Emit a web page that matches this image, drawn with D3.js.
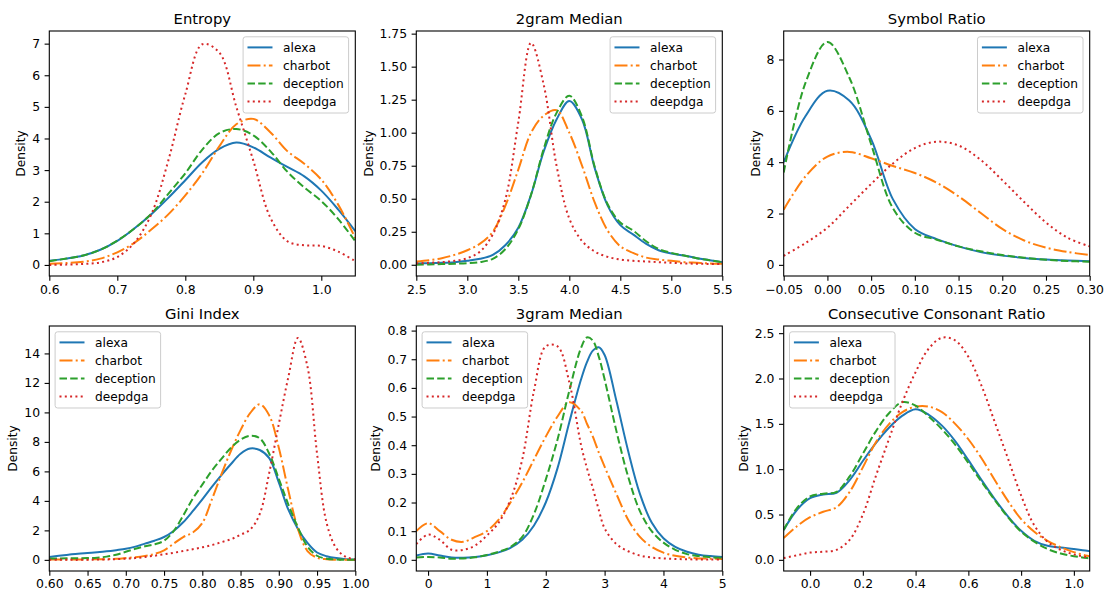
<!DOCTYPE html>
<html>
<head>
<meta charset="utf-8">
<script src="https://cdn.jsdelivr.net/npm/d3@7"></script>
<style>
  body { margin: 0; background: #fff; }
  text { font-family: "DejaVu Sans", sans-serif; fill: #000; }
</style>
</head>
<body>
<div id="output"></div>
<script>
    var width = 1104;
    var height = 590;

    var series = ['alexa', 'charbot', 'deception', 'deepdga'];
    var colors = ['#1f77b4', '#ff7f0e', '#2ca02c', '#d62728'];
    var dashes = [null, '13,3.2,2,3.2', '7.5,3.2', '2,3.3'];

    var titles = ['Entropy', '2gram Median', 'Symbol Ratio', 'Gini Index', '3gram Median', 'Consecutive Consonant Ratio'];

    // Entropy
    var entropyX = [0.6,0.625,0.65,0.675,0.7,0.725,0.75,0.775,0.8,0.825,0.85,0.875,0.9,0.925,0.95,0.975,1.0,1.025,1.05];
    var entropyAlexa = [0.13,0.2,0.3,0.48,0.76,1.15,1.6,2.12,2.68,3.25,3.67,3.87,3.72,3.4,3.1,2.8,2.35,1.75,1.07];
    var entropyCharbot = [0.04,0.06,0.1,0.2,0.4,0.7,1.12,1.6,2.2,2.9,3.75,4.45,4.62,4.2,3.6,3.2,2.7,1.9,0.85];
    var entropyDeception = [0.12,0.2,0.3,0.48,0.77,1.15,1.62,2.25,2.9,3.65,4.17,4.3,4.1,3.6,2.95,2.45,2.02,1.45,0.75];
    var entropyDeepdga = [0.0,0.01,0.03,0.08,0.25,0.7,1.6,3.3,5.4,6.98,6.72,5.0,3.3,1.5,0.75,0.62,0.6,0.42,0.12];

    // 2gram Median
    var gram2X = [2.5,2.625,2.75,2.875,3.0,3.125,3.25,3.375,3.5,3.625,3.75,3.875,4.0,4.125,4.25,4.375,4.5,4.625,4.75,4.875,5.0,5.125,5.25,5.375,5.5];
    var gram2Alexa = [0.01,0.012,0.015,0.02,0.03,0.045,0.075,0.15,0.28,0.53,0.86,1.1,1.24,1.1,0.73,0.45,0.3,0.23,0.16,0.11,0.085,0.07,0.05,0.035,0.02];
    var gram2Charbot = [0.025,0.035,0.05,0.075,0.11,0.16,0.25,0.45,0.72,1.0,1.13,1.17,1.0,0.75,0.47,0.26,0.14,0.09,0.055,0.04,0.03,0.02,0.015,0.01,0.008];
    var gram2Deception = [0.0,0.003,0.005,0.008,0.012,0.02,0.045,0.12,0.27,0.53,0.88,1.15,1.28,1.12,0.74,0.46,0.32,0.26,0.18,0.12,0.09,0.07,0.05,0.035,0.02];
    var gram2Deepdga = [0.01,0.015,0.02,0.03,0.05,0.1,0.23,0.5,1.08,1.68,1.36,0.75,0.35,0.18,0.1,0.06,0.04,0.03,0.025,0.02,0.015,0.01,0.008,0.006,0.005];

    // Symbol Ratio
    var symbolX = [-0.05,-0.025,0,0.025,0.05,0.075,0.1,0.125,0.15,0.175,0.2,0.225,0.25,0.275,0.3];
    var symbolAlexa = [4.0,5.8,6.78,6.4,4.9,2.55,1.4,1.0,0.72,0.5,0.36,0.27,0.21,0.17,0.14];
    var symbolCharbot = [2.15,3.45,4.22,4.4,4.15,3.85,3.58,3.2,2.67,2.03,1.4,0.95,0.67,0.5,0.38];
    var symbolDeception = [3.6,7.1,8.68,7.3,4.7,2.2,1.25,0.98,0.72,0.53,0.38,0.28,0.2,0.15,0.12];
    var symbolDeepdga = [0.35,0.85,1.45,2.3,3.15,3.95,4.55,4.8,4.65,4.1,3.3,2.45,1.65,1.05,0.72];

    // Gini Index
    var giniX = [0.6,0.6125,0.625,0.6375,0.65,0.6625,0.675,0.6875,0.7,0.7125,0.725,0.7375,0.75,0.7625,0.775,0.7875,0.8,
                 0.8125,0.825,0.8375,0.85,0.8625,0.875,0.8875,0.9,0.9125,0.925,0.9375,0.95,0.9625,0.975,0.9875,1.0];
    var giniAlexa = [0.2,0.28,0.35,0.42,0.47,0.52,0.58,0.66,0.75,0.9,1.1,1.3,1.55,1.96,2.55,3.3,4.1,4.95,5.75,6.5,7.2,7.55,7.45,6.9,5.25,3.4,2.1,1.15,0.5,0.25,0.12,0.05,0.02];
    var giniCharbot = [0.02,0.02,0.02,0.03,0.03,0.04,0.05,0.07,0.12,0.18,0.27,0.4,0.65,1.1,1.55,1.85,2.5,4.1,5.8,7.4,8.8,9.95,10.55,9.8,7.6,4.7,2.1,0.6,0.15,0.04,0.01,0.0,0.0];
    var giniDeception = [0.1,0.1,0.11,0.11,0.12,0.15,0.22,0.35,0.55,0.75,0.92,1.05,1.3,1.95,3.0,4.15,5.1,6.05,6.85,7.6,8.15,8.42,8.25,7.2,5.5,3.75,2.2,0.9,0.28,0.08,0.03,0.01,0.0];
    var giniDeepdga = [0.0,0.0,0.0,0.0,0.01,0.02,0.03,0.05,0.08,0.12,0.2,0.28,0.38,0.48,0.6,0.72,0.85,1.0,1.2,1.4,1.7,2.05,3.1,5.9,9.2,12.4,15.05,13.1,7.2,2.5,0.8,0.2,0.03];

    // 3gram Median
    var gram3X = [-0.2,0,0.2,0.4,0.6,0.8,1.0,1.2,1.4,1.6,1.8,2.0,2.2,2.4,2.6,2.7,2.8,2.9,3.0,3.2,3.4,3.6,3.8,4.0,4.2,4.4,4.6,4.8,5.0];
    var gram3Alexa = [0.015,0.022,0.015,0.008,0.007,0.01,0.016,0.026,0.042,0.07,0.12,0.2,0.32,0.48,0.63,0.69,0.73,0.742,0.715,0.555,0.38,0.23,0.13,0.075,0.045,0.028,0.018,0.013,0.01];
    var gram3Charbot = [0.1,0.128,0.1,0.07,0.063,0.08,0.1,0.14,0.2,0.27,0.35,0.43,0.5,0.55,0.52,0.475,0.43,0.375,0.325,0.23,0.14,0.08,0.045,0.025,0.014,0.008,0.005,0.004,0.003];
    var gram3Deception = [0.008,0.01,0.008,0.004,0.005,0.009,0.017,0.028,0.045,0.08,0.16,0.28,0.42,0.59,0.74,0.776,0.765,0.71,0.63,0.45,0.29,0.17,0.1,0.06,0.035,0.02,0.013,0.009,0.007];
    var gram3Deepdga = [0.055,0.088,0.07,0.035,0.035,0.05,0.085,0.13,0.21,0.35,0.59,0.745,0.745,0.62,0.4,0.32,0.25,0.175,0.11,0.055,0.03,0.015,0.008,0.005,0.003,0.002,0.001,0.001,0.001];

    // Consecutive Consonant Ratio
    var ccrX = [-0.1,-0.05,0,0.05,0.1,0.15,0.2,0.25,0.3,0.35,0.4,0.45,0.5,0.55,0.6,0.65,0.7,0.75,0.8,0.85,0.9,0.95,1.0,1.05,1.1];
    var ccrAlexa = [0.33,0.55,0.68,0.72,0.74,0.88,1.09,1.29,1.46,1.59,1.66,1.6,1.48,1.31,1.1,0.88,0.67,0.48,0.32,0.21,0.155,0.135,0.12,0.1,0.08];
    var ccrCharbot = [0.24,0.37,0.47,0.53,0.58,0.75,1.02,1.3,1.5,1.63,1.69,1.69,1.63,1.5,1.33,1.12,0.88,0.65,0.45,0.31,0.21,0.14,0.085,0.045,0.02];
    var ccrDeception = [0.33,0.57,0.7,0.73,0.75,0.92,1.17,1.42,1.62,1.74,1.7,1.58,1.44,1.27,1.07,0.86,0.66,0.47,0.31,0.2,0.12,0.07,0.04,0.02,0.01];
    var ccrDeepdga = [0.02,0.05,0.08,0.09,0.11,0.22,0.5,0.93,1.34,1.74,2.07,2.33,2.45,2.42,2.24,1.92,1.52,1.12,0.71,0.38,0.2,0.11,0.06,0.03,0.015];

    // tick values
    var entropyTicksX = [0.6,0.7,0.8,0.9,1.0], entropyTicksY = [0,1,2,3,4,5,6,7];
    var gram2TicksX = [2.5,3.0,3.5,4.0,4.5,5.0,5.5], gram2TicksY = [0,0.25,0.5,0.75,1.0,1.25,1.5,1.75];
    var symbolTicksX = [-0.05,0,0.05,0.1,0.15,0.2,0.25,0.3], symbolTicksY = [0,2,4,6,8];
    var giniTicksX = [0.6,0.65,0.7,0.75,0.8,0.85,0.9,0.95,1.0], giniTicksY = [0,2,4,6,8,10,12,14];
    var gram3TicksX = [0,1,2,3,4,5], gram3TicksY = [0,0.1,0.2,0.3,0.4,0.5,0.6,0.7,0.8];
    var ccrTicksX = [0,0.2,0.4,0.6,0.8,1.0], ccrTicksY = [0,0.5,1.0,1.5,2.0,2.5];

    var panels = [
        { xs: entropyX, ys: [entropyAlexa, entropyCharbot, entropyDeception, entropyDeepdga],
          xDomain: [0.6, 1.05], yDomain: [-0.35, 7.40], xTicks: entropyTicksX, yTicks: entropyTicksY, xFmt: '.1f', yFmt: 'd', legend: 'right' },
        { xs: gram2X, ys: [gram2Alexa, gram2Charbot, gram2Deception, gram2Deepdga],
          xDomain: [2.5, 5.5], yDomain: [-0.085, 1.77], xTicks: gram2TicksX, yTicks: gram2TicksY, xFmt: '.1f', yFmt: '.2f', legend: 'right' },
        { xs: symbolX, ys: [symbolAlexa, symbolCharbot, symbolDeception, symbolDeepdga],
          xDomain: [-0.05, 0.30], yDomain: [-0.434, 9.11], xTicks: symbolTicksX, yTicks: symbolTicksY, xFmt: '.2f', yFmt: 'd', legend: 'right' },
        { xs: giniX, ys: [giniAlexa, giniCharbot, giniDeception, giniDeepdga],
          xDomain: [0.6, 1.0], yDomain: [-0.755, 15.86], xTicks: giniTicksX, yTicks: giniTicksY, xFmt: '.2f', yFmt: 'd', legend: 'left' },
        { xs: gram3X, ys: [gram3Alexa, gram3Charbot, gram3Deception, gram3Deepdga],
          xDomain: [-0.2, 5.0], yDomain: [-0.039, 0.816], xTicks: gram3TicksX, yTicks: gram3TicksY, xFmt: 'd', yFmt: '.1f', legend: 'left' },
        { xs: ccrX, ys: [ccrAlexa, ccrCharbot, ccrDeception, ccrDeepdga],
          xDomain: [-0.1, 1.06], yDomain: [-0.123, 2.579], xTicks: ccrTicksX, yTicks: ccrTicksY, xFmt: '.1f', yFmt: '.1f', legend: 'left' }
    ];

    var colLeft = [49.3, 416.3, 783.7];
    var rowTop = [31, 326];
    var plotW = 306;
    var plotH = 245;

    var svg = d3.select('#output').append('svg')
            .attr('width', width)
            .attr('height', height);

    svg.append('rect').attr('width', width).attr('height', height).attr('fill', '#fff');

    panels.forEach(function(p, i) {
        var row = Math.floor(i / 3);
        var g = svg.append('g')
            .attr('transform', 'translate(' + colLeft[i % 3] + ',' + rowTop[row] + ')');

        var x = d3.scaleLinear().domain(p.xDomain).range([0, plotW]);
        var y = d3.scaleLinear().domain(p.yDomain).range([plotH, 0]);

        g.append('clipPath').attr('id', 'clip' + i)
            .append('rect').attr('width', plotW).attr('height', plotH);

        var line = d3.line()
            .x(function(d) { return x(d[0]); })
            .y(function(d) { return y(d[1]); })
            .curve(d3.curveCatmullRom.alpha(0.5));

        // density curves
        p.ys.forEach(function(vals, k) {
            var pts = p.xs.map(function(xv, j) { return [xv, vals[j]]; });
            g.append('path')
                .datum(pts)
                .attr('d', line)
                .attr('clip-path', 'url(#clip' + i + ')')
                .attr('fill', 'none')
                .attr('stroke', colors[k])
                .attr('stroke-width', 2)
                .attr('stroke-dasharray', dashes[k]);
        });

        // axes
        var xAxis = d3.axisBottom(x).tickValues(p.xTicks).tickFormat(d3.format(p.xFmt))
            .tickSizeInner(4.7).tickSizeOuter(0).tickPadding(row === 0 ? 4.5 : 3.6);
        var yAxis = d3.axisLeft(y).tickValues(p.yTicks).tickFormat(d3.format(p.yFmt))
            .tickSizeInner(4.7).tickSizeOuter(0).tickPadding(4.5);

        var gx = g.append('g').attr('transform', 'translate(0,' + plotH + ')').call(xAxis);
        var gy = g.append('g').call(yAxis);
        [gx, gy].forEach(function(a) {
            a.select('.domain').remove();
            a.selectAll('line').attr('stroke', '#000').attr('stroke-width', 1.1);
            a.selectAll('text').style('font-size', '12.4px').attr('fill', '#000');
        });

        // frame
        g.append('rect')
            .attr('width', plotW).attr('height', plotH)
            .attr('fill', 'none').attr('stroke', '#000').attr('stroke-width', 1.1);

        // title
        g.append('text')
            .attr('x', plotW / 2).attr('y', -7)
            .attr('text-anchor', 'middle')
            .style('font-size', '14.8px')
            .text(titles[i]);

        // y label
        var bb = gy.node().getBBox();
        var lx = bb.x - 7;
        g.append('text')
            .attr('transform', 'translate(' + lx + ',' + (plotH / 2) + ') rotate(-90)')
            .attr('text-anchor', 'middle')
            .style('font-size', '12.2px')
            .text('Density');

        // legend
        var lg = g.append('g');
        var box = lg.append('rect')
            .attr('rx', 2.5).attr('ry', 2.5)
            .attr('fill', '#fff').attr('fill-opacity', 0.8)
            .attr('stroke', '#cccccc').attr('stroke-width', 1);
        var maxW = 0;
        series.forEach(function(s, k) {
            var cy = 10.6 + k * 18;
            lg.append('line')
                .attr('x1', 4.4).attr('x2', 29.4)
                .attr('y1', cy).attr('y2', cy)
                .attr('stroke', colors[k])
                .attr('stroke-width', 2)
                .attr('stroke-dasharray', dashes[k]);
            var t = lg.append('text')
                .attr('x', 40).attr('y', cy).attr('dy', '0.36em')
                .style('font-size', '12.2px')
                .text(s);
            maxW = Math.max(maxW, t.node().getComputedTextLength());
        });
        var boxW = 40 + maxW + 5;
        box.attr('width', boxW).attr('height', 76.2);
        var lx0 = p.legend === 'right' ? plotW - 6.7 - boxW : 5.8;
        lg.attr('transform', 'translate(' + lx0 + ',5.8)');
    });
</script>
</body>
</html>
